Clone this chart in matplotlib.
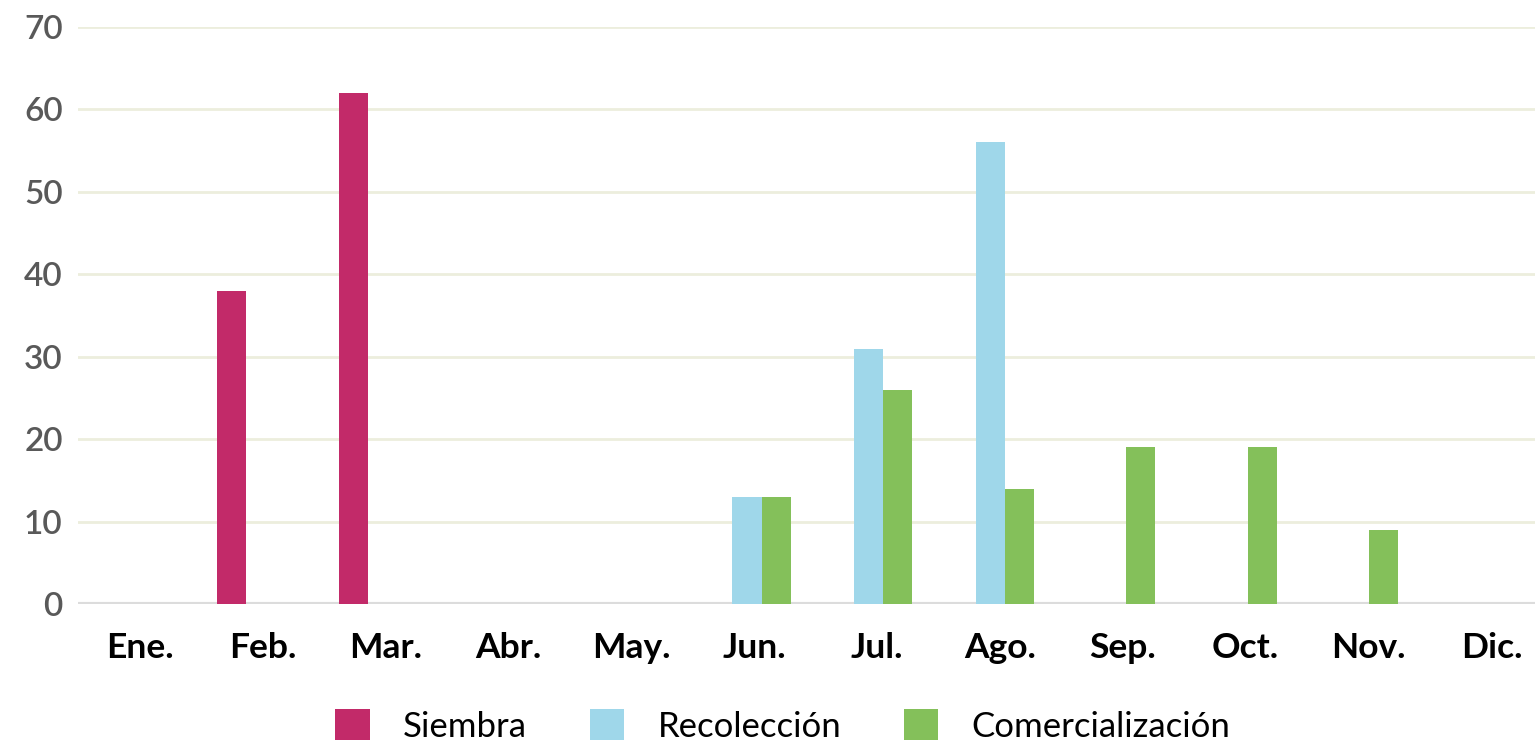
import numpy as np
import matplotlib.pyplot as plt

# Meses y valores por actividad
meses = ["Ene.", "Feb.", "Mar.", "Abr.", "May.", "Jun.",
         "Jul.", "Ago.", "Sep.", "Oct.", "Nov.", "Dic."]
siembra = [0, 38, 62, 0, 0, 0, 0, 0, 0, 0, 0, 0]
recoleccion = [0, 0, 0, 0, 0, 13, 31, 56, 0, 0, 0, 0]
comercializacion = [0, 0, 0, 0, 0, 13, 26, 14, 19, 19, 9, 0]

plt.rcParams['font.family'] = ['Lato', 'DejaVu Sans']

fig = plt.figure(figsize=(15.35, 7.44), dpi=100)
ax = fig.add_axes([0.0508, 0.188, 0.9492, 0.7757])

x = np.arange(len(meses))
w = 0.239
ax.bar(x - w, siembra, w, color='#c22a69', label='Siembra', zorder=3)
ax.bar(x, recoleccion, w, color='#9fd7ea', label='Recolección', zorder=3)
ax.bar(x + w, comercializacion, w, color='#84c05a', label='Comercialización', zorder=3)

ax.set_xlim(-0.506, 11.485)
ax.set_ylim(0, 70)
ax.set_yticks(range(0, 71, 10))
for v in range(10, 71, 10):
    ax.axhline(v, color='#eceedd', lw=2, zorder=1)
ax.axhline(0, color='#dcdcdc', lw=3, zorder=2)

# etiquetas de meses un poco más abiertas que las barras
ax.set_xticks(x * 1.0115)
ax.set_xticklabels(meses, fontsize=25.5, fontweight='bold', color='black')
ax.tick_params(axis='x', length=0, pad=20)
ax.tick_params(axis='y', length=0, pad=11, labelsize=24, labelcolor='#595959')
for lbl in ax.get_yticklabels():
    lbl.set_fontweight('semibold')
for s in ax.spines.values():
    s.set_visible(False)

fig.legend(loc='upper center', bbox_to_anchor=(0.51, 0.07), ncol=3, frameon=False,
           fontsize=25, handlelength=1.0, handleheight=1.0, handletextpad=0.95,
           columnspacing=1.8, borderpad=0)

fig.savefig('out.png', dpi=100)
